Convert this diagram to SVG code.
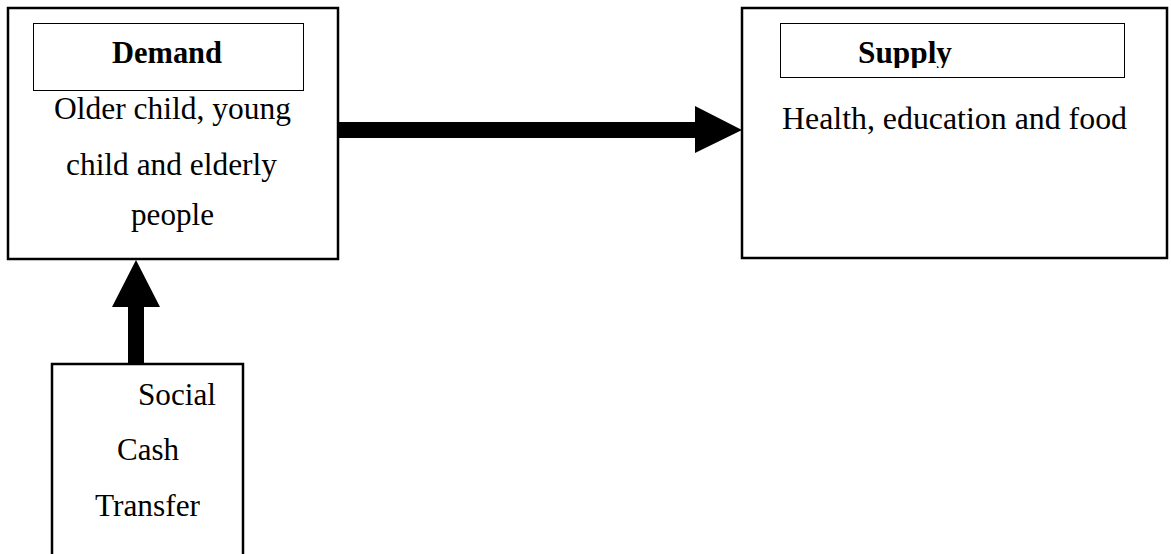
<svg xmlns="http://www.w3.org/2000/svg" width="1171" height="554" viewBox="0 0 1171 554">
<style>
.box{fill:#fff;stroke:#000;stroke-width:2.5}
.inner{fill:#fff;stroke:#000;stroke-width:1}
.t{font-family:"Liberation Serif","Times New Roman",serif;font-size:31px;fill:#000}
.b{font-weight:bold}
.arrow{fill:#000;stroke:none}
</style>
<defs>
<clipPath id="supclip"><rect x="780" y="20" width="345" height="48"/></clipPath>
</defs>
<g id="demand">
<rect class="box" x="8" y="8" width="330" height="251"/>
<rect class="inner" x="33.5" y="23.5" width="270" height="67"/>
<text class="t b" x="112" y="63" textLength="110" lengthAdjust="spacingAndGlyphs">Demand</text>
<text class="t" x="54" y="119" textLength="237" lengthAdjust="spacingAndGlyphs">Older child, young</text>
<text class="t" x="66" y="175" textLength="211" lengthAdjust="spacingAndGlyphs">child and elderly</text>
<text class="t" x="131" y="225" textLength="83" lengthAdjust="spacingAndGlyphs">people</text>
</g>
<g id="supply">
<rect class="box" x="742" y="8" width="425" height="250"/>
<rect class="inner" x="780.5" y="23.5" width="344" height="54"/>
<text class="t b" x="858" y="63" textLength="94" lengthAdjust="spacingAndGlyphs" clip-path="url(#supclip)">Supply</text>
<text class="t" x="782" y="129" textLength="345" lengthAdjust="spacingAndGlyphs">Health, education and food</text>
</g>
<g id="cash">
<rect class="box" x="52" y="364" width="191" height="200"/>
<text class="t" x="138" y="405" textLength="78" lengthAdjust="spacingAndGlyphs">Social</text>
<text class="t" x="117" y="460" textLength="62" lengthAdjust="spacingAndGlyphs">Cash</text>
<text class="t" x="95" y="516" textLength="105" lengthAdjust="spacingAndGlyphs">Transfer</text>
</g>
<g id="connectors">
<polygon class="arrow" points="339,122 695,122 695,106 742,130 695,153 695,138 339,138"/>
<polygon class="arrow" points="128,363 128,307 112,307 136,260 160,307 144,307 144,363"/>
</g>
</svg>
